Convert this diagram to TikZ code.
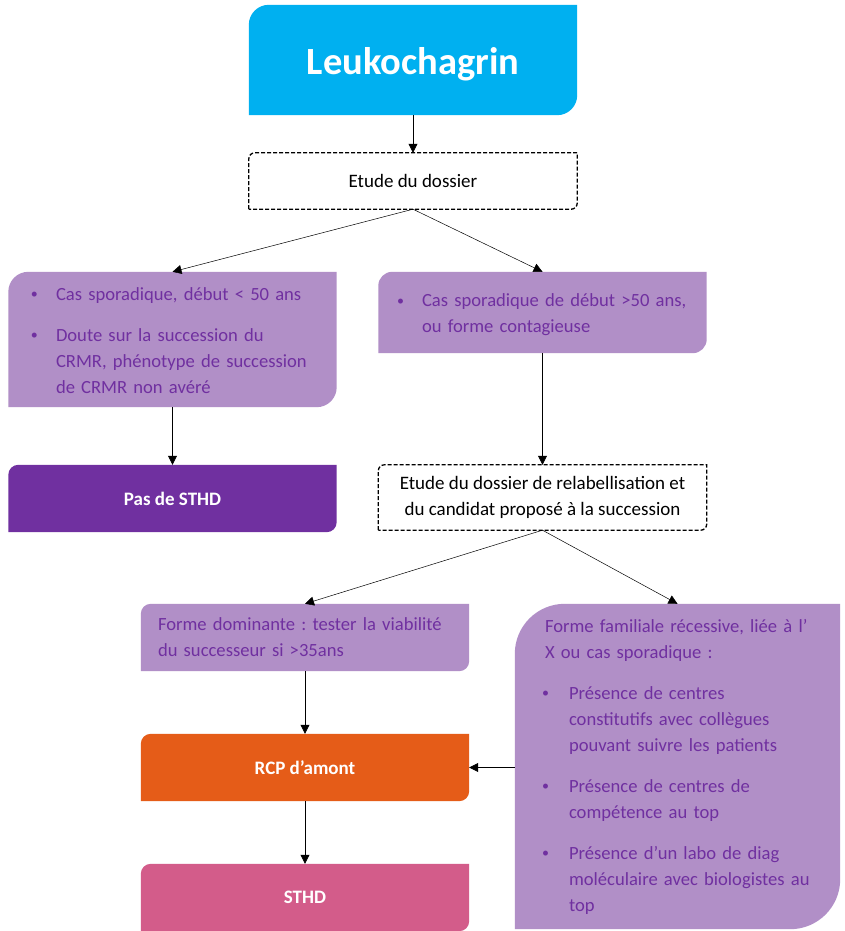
\documentclass[tikz,border=0pt]{standalone}
\usepackage{fontspec}
\setmainfont{Carlito}
\usepackage{xcolor}
\usepackage{tikz}
\definecolor{leukoblue}{RGB}{0, 176, 240}
\definecolor{lilac}{RGB}{177, 143, 199}
\definecolor{deeppurple}{RGB}{112, 48, 160}
\definecolor{rcporange}{RGB}{229, 92, 24}
\definecolor{sthdpink}{RGB}{211, 92, 138}
\usetikzlibrary{shapes, arrows.meta, positioning, backgrounds, calc}

% box with rounded top-left and bottom-right corners
\newcommand{\diagshape}[3][]{%
  \path[#1] (#2.south west) -- ([yshift=-#3]#2.north west)
    arc[start angle=180, end angle=90, radius=#3] -- (#2.north east)
    -- ([yshift=#3]#2.south east)
    arc[start angle=0, end angle=-90, radius=#3] -- cycle;}
% lines may run past the text width, breaks are set by hand
\newcommand{\libre}{\rightskip=-40pt plus 1fil\relax}
% bullet item, lines broken with \newline
\newcommand{\puce}[2][22pt]{\par\hangindent=#1\hangafter=1\noindent\libre
  \makebox[#1][l]{\hspace{-3pt}\raisebox{1.5pt}{\fontsize{14}{14}\selectfont\textbullet}}#2\par}
\newcommand{\ecart}{\vspace{15pt}}

\begin{document}
\begin{tikzpicture}[
    x=1pt, y=-1pt,
    bodyfont/.style={font=\fontsize{18.6}{26}\selectfont\frenchspacing},
    dashbox/.style={minimum width=328pt, inner sep=0pt, align=center, text=black, font=\fontsize{19}{26}\selectfont},
    lilacbox/.style={minimum width=328pt, inner sep=0pt, align=left, text=deeppurple, bodyfont},
    solidbox/.style={minimum width=328pt, minimum height=67pt, inner sep=0pt, text=white, font=\fontsize{19}{22}\selectfont\bfseries},
    arr/.style={-{Triangle[length=9pt, width=9pt]}, line width=0.7pt}
]
    \useasboundingbox (0,0) rectangle (844,931);

    \node[minimum width=328pt, minimum height=110pt, text=white, font=\fontsize{38.5}{42}\selectfont\bfseries] (leuko) at (413,60)
        {\raisebox{-4pt}[\height][\depth]{Leukochagrin}};
    \node[dashbox, minimum height=56pt] (etude) at (413,181) {Etude du dossier};

    \node[lilacbox, minimum height=135pt, text width=277pt] (sporadg) at (172.5,339.5)
        {\puce{Cas sporadique, début < 50 ans}\ecart
         \puce{Doute sur la succession du\newline CRMR, phénotype de succession\newline de CRMR non avéré}\vspace{11pt}};
    \node[lilacbox, minimum height=81pt, text width=285pt] (sporadd) at (542.5,312.5)
        {\puce{Cas sporadique de début >50 ans,\newline ou forme contagieuse}\vspace{8pt}};

    \node[solidbox] (pas) at (172.5,498.5) {Pas de STHD};
    \node[dashbox, minimum height=65pt] (relab) at (542.5,497.5)
        {Etude du dossier de relabellisation et\\du candidat proposé à la succession};

    \node[lilacbox, minimum height=67pt, text width=294pt] (domin) at (305,637.5)
        {\libre Forme dominante : tester la viabilité\newline du successeur si >35ans};
    \node[lilacbox, minimum width=325pt, minimum height=325pt, text width=265pt] (famil) at (677.5,766.5)
        {\libre Forme familiale récessive, liée à l’\newline X ou cas sporadique :\par\ecart
         \puce[24pt]{Présence de centres\newline constitutifs avec collègues\newline pouvant suivre les patients}\ecart
         \puce[24pt]{Présence de centres de\newline compétence au top}\ecart
         \puce[24pt]{Présence d’un labo de diag\newline moléculaire avec biologistes au\newline top}};

    \node[solidbox] (rcp) at (305,767.5) {RCP d’amont};
    \node[solidbox] (sthd) at (305,897.5) {STHD};

    \begin{scope}[on background layer]
        \fill[white] (0,0) rectangle (844,931);
        \diagshape[fill=leukoblue]{leuko}{20pt}
        \diagshape[fill=white, draw=black, line width=1.3pt, dash pattern=on 4pt off 2pt]{etude}{6pt}
        \diagshape[fill=lilac]{sporadg}{20pt}
        \diagshape[fill=lilac]{sporadd}{14pt}
        \diagshape[fill=deeppurple]{pas}{10pt}
        \diagshape[fill=white, draw=black, line width=1.3pt, dash pattern=on 4pt off 2pt]{relab}{6pt}
        \diagshape[fill=lilac]{domin}{10pt}
        \diagshape[fill=lilac]{famil}{50pt}
        \diagshape[fill=rcporange]{rcp}{10pt}
        \diagshape[fill=sthdpink]{sthd}{10pt}
    \end{scope}

    \draw[arr] (leuko) -- (etude);
    \draw[arr, line width=0.5pt] (etude.south) -- (sporadg.north);
    \draw[arr, line width=0.5pt] (etude.south) -- (sporadd.north);
    \draw[arr] (sporadg) -- (pas);
    \draw[arr] (sporadd) -- (relab);
    \draw[arr, line width=0.5pt] (relab.south) -- (domin.north);
    \draw[arr, line width=0.5pt] (relab.south) -- (famil.north);
    \draw[arr] (domin) -- (rcp);
    \draw[arr] (rcp) -- (sthd);
    \draw[arr] (famil.west |- rcp.east) -- (rcp.east);
\end{tikzpicture}
\end{document}
